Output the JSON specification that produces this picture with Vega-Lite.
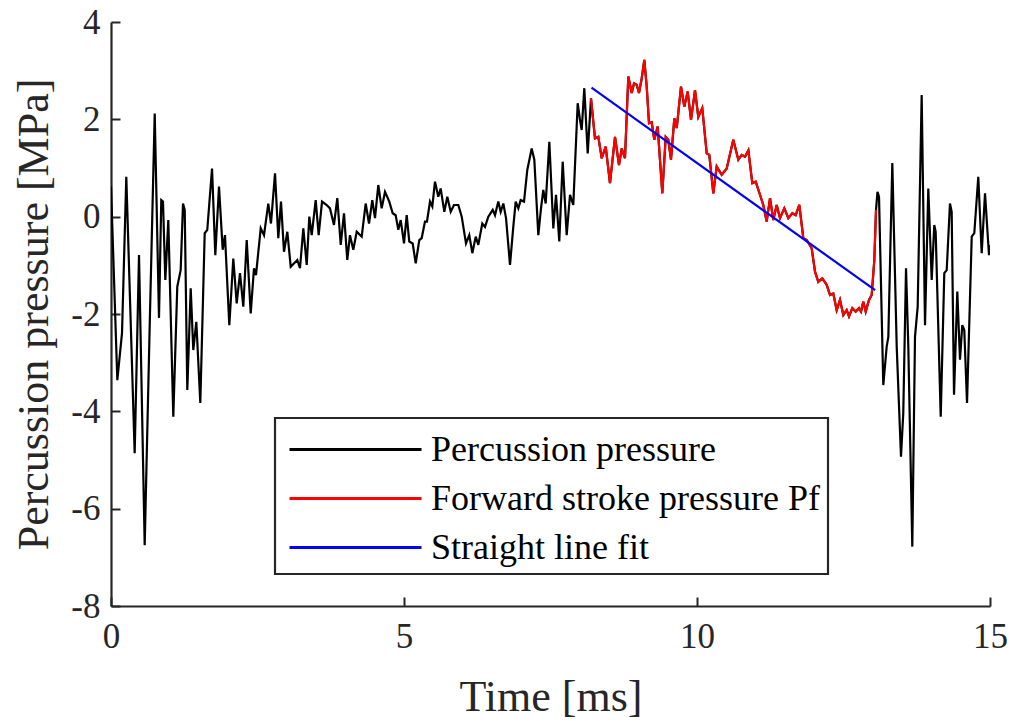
{
  "$schema": "https://vega.github.io/schema/vega-lite/v6.json",
  "autosize": {"type": "none"},
  "padding": {"left": 111, "top": 22, "right": 25, "bottom": 115},
  "width": 879,
  "height": 584,
  "background": "white",
  "config": {
    "view": {"stroke": null},
    "font": "Liberation Serif",
    "axis": {
      "grid": false,
      "domainColor": "#262626",
      "domainWidth": 2.2,
      "tickColor": "#262626",
      "tickWidth": 2,
      "tickSize": -9,
      "labelFont": "Liberation Serif",
      "labelFontSize": 35,
      "labelColor": "#262626",
      "titleFont": "Liberation Serif",
      "titleFontSize": 44,
      "titleFontWeight": "normal",
      "titleColor": "#262626"
    }
  },
  "datasets": {
    "sig": [
      {"t": 0.0, "p": 0.62}, {"t": 0.108, "p": -3.36}, {"t": 0.188, "p": -2.39}, {"t": 0.261, "p": 0.82},
      {"t": 0.404, "p": -4.86}, {"t": 0.478, "p": -0.79}, {"t": 0.575, "p": -6.75}, {"t": 0.66, "p": -2.26},
      {"t": 0.746, "p": 2.12}, {"t": 0.819, "p": -2.08}, {"t": 0.858, "p": 0.34}, {"t": 0.887, "p": 0.31},
      {"t": 0.927, "p": -1.3}, {"t": 0.978, "p": -0.07}, {"t": 1.063, "p": -4.11}, {"t": 1.131, "p": -1.44},
      {"t": 1.189, "p": -1.1}, {"t": 1.229, "p": 0.27}, {"t": 1.258, "p": 0.14}, {"t": 1.302, "p": -3.56},
      {"t": 1.36, "p": -1.47}, {"t": 1.404, "p": -2.74}, {"t": 1.456, "p": -2.16}, {"t": 1.524, "p": -3.83},
      {"t": 1.599, "p": -0.34}, {"t": 1.643, "p": -0.27}, {"t": 1.724, "p": 0.99}, {"t": 1.78, "p": -0.79},
      {"t": 1.843, "p": 0.62}, {"t": 1.906, "p": -0.68}, {"t": 1.945, "p": -0.38}, {"t": 2.019, "p": -2.23},
      {"t": 2.087, "p": -0.86}, {"t": 2.145, "p": -1.78}, {"t": 2.201, "p": -1.16}, {"t": 2.258, "p": -1.85},
      {"t": 2.316, "p": -0.48}, {"t": 2.384, "p": -1.99}, {"t": 2.44, "p": -1.06}, {"t": 2.474, "p": -1.2},
      {"t": 2.555, "p": -0.24}, {"t": 2.611, "p": -0.38}, {"t": 2.684, "p": 0.27}, {"t": 2.73, "p": -0.14},
      {"t": 2.799, "p": 0.89}, {"t": 2.855, "p": -0.44}, {"t": 2.901, "p": 0.31}, {"t": 2.952, "p": -0.72},
      {"t": 3.009, "p": -0.31}, {"t": 3.067, "p": -1.03}, {"t": 3.179, "p": -0.89}, {"t": 3.225, "p": -1.06},
      {"t": 3.282, "p": -0.24}, {"t": 3.34, "p": -0.99}, {"t": 3.384, "p": 0.0}, {"t": 3.425, "p": -0.38},
      {"t": 3.493, "p": 0.34}, {"t": 3.544, "p": -0.38}, {"t": 3.601, "p": 0.31}, {"t": 3.681, "p": 0.24},
      {"t": 3.737, "p": 0.17}, {"t": 3.805, "p": -0.17}, {"t": 3.862, "p": 0.38}, {"t": 3.92, "p": -0.58},
      {"t": 3.976, "p": 0.07}, {"t": 4.032, "p": -0.89}, {"t": 4.078, "p": -0.38}, {"t": 4.135, "p": -0.68},
      {"t": 4.193, "p": -0.31}, {"t": 4.278, "p": -0.41}, {"t": 4.346, "p": 0.27}, {"t": 4.403, "p": -0.14},
      {"t": 4.459, "p": 0.34}, {"t": 4.505, "p": -0.03}, {"t": 4.561, "p": 0.65}, {"t": 4.619, "p": 0.17},
      {"t": 4.676, "p": 0.51}, {"t": 4.749, "p": 0.31}, {"t": 4.807, "p": 0.07}, {"t": 4.858, "p": 0.03},
      {"t": 4.903, "p": -0.27}, {"t": 4.944, "p": -0.07}, {"t": 5.0, "p": -0.55}, {"t": 5.046, "p": 0.03},
      {"t": 5.09, "p": -0.51}, {"t": 5.148, "p": -0.55}, {"t": 5.2, "p": -0.96}, {"t": 5.261, "p": -0.48},
      {"t": 5.302, "p": -0.44}, {"t": 5.358, "p": -0.1}, {"t": 5.392, "p": -0.1}, {"t": 5.444, "p": 0.31},
      {"t": 5.483, "p": 0.21}, {"t": 5.529, "p": 0.72}, {"t": 5.585, "p": 0.41}, {"t": 5.626, "p": 0.58},
      {"t": 5.688, "p": 0.1}, {"t": 5.739, "p": 0.41}, {"t": 5.797, "p": 0.1}, {"t": 5.853, "p": 0.24},
      {"t": 5.927, "p": 0.24}, {"t": 5.985, "p": 0.0}, {"t": 6.058, "p": -0.55}, {"t": 6.114, "p": -0.38},
      {"t": 6.166, "p": -0.75}, {"t": 6.224, "p": -0.41}, {"t": 6.268, "p": -0.58}, {"t": 6.336, "p": -0.14},
      {"t": 6.382, "p": -0.21}, {"t": 6.439, "p": 0.0}, {"t": 6.514, "p": 0.14}, {"t": 6.553, "p": 0.03},
      {"t": 6.609, "p": 0.31}, {"t": 6.65, "p": 0.1}, {"t": 6.695, "p": 0.27}, {"t": 6.741, "p": -0.03},
      {"t": 6.809, "p": -0.99}, {"t": 6.865, "p": -0.21}, {"t": 6.906, "p": 0.31}, {"t": 6.951, "p": 0.17},
      {"t": 6.991, "p": 0.34}, {"t": 7.048, "p": 0.31}, {"t": 7.104, "p": 0.96}, {"t": 7.179, "p": 1.4},
      {"t": 7.224, "p": 1.17}, {"t": 7.292, "p": -0.38}, {"t": 7.338, "p": 0.17}, {"t": 7.377, "p": 0.55},
      {"t": 7.418, "p": 0.27}, {"t": 7.48, "p": 1.54}, {"t": 7.548, "p": -0.24}, {"t": 7.594, "p": 0.45},
      {"t": 7.65, "p": -0.51}, {"t": 7.708, "p": 1.13}, {"t": 7.776, "p": -0.38}, {"t": 7.833, "p": 0.45},
      {"t": 7.889, "p": 0.24}, {"t": 7.964, "p": 2.33}, {"t": 8.003, "p": 1.99}, {"t": 8.032, "p": 1.78},
      {"t": 8.077, "p": 2.64}, {"t": 8.135, "p": 1.3}, {"t": 8.191, "p": 2.43}, {"t": 8.259, "p": 1.61},
      {"t": 8.316, "p": 1.64}, {"t": 8.374, "p": 1.2}, {"t": 8.442, "p": 1.44}, {"t": 8.515, "p": 0.69},
      {"t": 8.601, "p": 1.64}, {"t": 8.669, "p": 1.06}, {"t": 8.715, "p": 1.4}, {"t": 8.771, "p": 1.2},
      {"t": 8.828, "p": 2.88}, {"t": 8.886, "p": 2.54}, {"t": 8.925, "p": 2.74}, {"t": 8.971, "p": 2.71},
      {"t": 9.01, "p": 2.54}, {"t": 9.056, "p": 2.84}, {"t": 9.101, "p": 3.22}, {"t": 9.142, "p": 2.67},
      {"t": 9.181, "p": 1.92}, {"t": 9.227, "p": 1.94}, {"t": 9.271, "p": 1.58}, {"t": 9.329, "p": 1.85},
      {"t": 9.408, "p": 0.48}, {"t": 9.466, "p": 1.64}, {"t": 9.51, "p": 1.58}, {"t": 9.556, "p": 1.17},
      {"t": 9.613, "p": 2.02}, {"t": 9.654, "p": 1.82}, {"t": 9.727, "p": 2.67}, {"t": 9.783, "p": 2.26},
      {"t": 9.841, "p": 2.57}, {"t": 9.898, "p": 1.99}, {"t": 9.966, "p": 2.6}, {"t": 10.022, "p": 2.05},
      {"t": 10.09, "p": 2.23}, {"t": 10.166, "p": 1.3}, {"t": 10.21, "p": 1.27}, {"t": 10.278, "p": 0.48},
      {"t": 10.336, "p": 1.03}, {"t": 10.421, "p": 0.86}, {"t": 10.507, "p": 0.99}, {"t": 10.619, "p": 1.58},
      {"t": 10.705, "p": 1.17}, {"t": 10.763, "p": 1.27}, {"t": 10.819, "p": 1.23}, {"t": 10.876, "p": 1.36},
      {"t": 10.944, "p": 0.69}, {"t": 11.002, "p": 0.72}, {"t": 11.075, "p": 0.45}, {"t": 11.131, "p": 0.24},
      {"t": 11.189, "p": -0.1}, {"t": 11.246, "p": 0.38}, {"t": 11.302, "p": -0.07}, {"t": 11.36, "p": 0.24},
      {"t": 11.416, "p": -0.03}, {"t": 11.49, "p": 0.17}, {"t": 11.558, "p": -0.03}, {"t": 11.626, "p": 0.07},
      {"t": 11.684, "p": 0.03}, {"t": 11.746, "p": 0.24}, {"t": 11.814, "p": -0.44}, {"t": 11.872, "p": -0.48},
      {"t": 11.957, "p": -0.65}, {"t": 12.014, "p": -1.13}, {"t": 12.07, "p": -1.34}, {"t": 12.138, "p": -1.27},
      {"t": 12.213, "p": -1.4}, {"t": 12.27, "p": -1.61}, {"t": 12.326, "p": -1.58}, {"t": 12.384, "p": -1.92},
      {"t": 12.44, "p": -1.71}, {"t": 12.497, "p": -2.02}, {"t": 12.555, "p": -1.92}, {"t": 12.594, "p": -2.05},
      {"t": 12.65, "p": -1.88}, {"t": 12.708, "p": -1.95}, {"t": 12.765, "p": -1.88}, {"t": 12.799, "p": -1.95},
      {"t": 12.838, "p": -1.75}, {"t": 12.879, "p": -1.95}, {"t": 12.935, "p": -1.71}, {"t": 12.981, "p": -1.61},
      {"t": 13.026, "p": -0.89}, {"t": 13.055, "p": 0.14}, {"t": 13.08, "p": 0.51}, {"t": 13.106, "p": 0.41},
      {"t": 13.179, "p": -3.46}, {"t": 13.237, "p": -2.67}, {"t": 13.265, "p": -2.47}, {"t": 13.333, "p": 1.1},
      {"t": 13.408, "p": -2.67}, {"t": 13.481, "p": -4.93}, {"t": 13.52, "p": -4.04}, {"t": 13.567, "p": -1.06},
      {"t": 13.606, "p": -2.67}, {"t": 13.674, "p": -6.78}, {"t": 13.72, "p": -2.47}, {"t": 13.766, "p": -1.85},
      {"t": 13.834, "p": 2.5}, {"t": 13.891, "p": -2.23}, {"t": 13.947, "p": 0.58}, {"t": 14.005, "p": -1.3},
      {"t": 14.049, "p": -0.17}, {"t": 14.073, "p": -0.31}, {"t": 14.159, "p": -4.11}, {"t": 14.22, "p": -1.16},
      {"t": 14.261, "p": -1.1}, {"t": 14.317, "p": 0.27}, {"t": 14.346, "p": 0.1}, {"t": 14.386, "p": -3.66},
      {"t": 14.442, "p": -1.54}, {"t": 14.488, "p": -2.94}, {"t": 14.527, "p": -2.23}, {"t": 14.561, "p": -2.33},
      {"t": 14.608, "p": -3.83}, {"t": 14.688, "p": -0.41}, {"t": 14.732, "p": -0.34}, {"t": 14.8, "p": 0.82},
      {"t": 14.858, "p": -0.75}, {"t": 14.915, "p": 0.48}, {"t": 14.983, "p": -0.79}, {"t": 15.0, "p": -0.58}
    ],
    "fit": [
      {"t": 8.2, "p": 2.65},
      {"t": 13.04, "p": -1.51}
    ]
  },
  "layer": [
    {
      "data": {"name": "sig"},
      "mark": {"type": "line", "strokeWidth": 2.2, "clip": true},
      "encoding": {
        "x": {
          "field": "t", "type": "quantitative",
          "scale": {"domain": [0, 15], "nice": false, "zero": false},
          "axis": {"values": [0, 5, 10, 15], "format": "d", "title": "Time [ms]", "labelPadding": 22, "titlePadding": 21, "labelFlush": false}
        },
        "y": {
          "field": "p", "type": "quantitative",
          "scale": {"domain": [-8, 4], "nice": false, "zero": false},
          "axis": {"values": [-8, -6, -4, -2, 0, 2, 4], "title": "Percussion pressure [MPa]", "labelPadding": 20, "titlePadding": 14, "labelExpr": "'' + datum.value", "labelFlush": false}
        },
        "color": {
          "datum": "Percussion pressure",
          "type": "nominal",
          "scale": {
            "domain": ["Percussion pressure", "Forward stroke pressure Pf", "Straight line fit"],
            "range": ["#000000", "#ff0000", "#0000ff"]
          },
          "legend": {
            "title": null,
            "orient": "none",
            "legendX": 164,
            "legendY": 396,
            "symbolType": "M-3,0H3",
            "symbolSize": 1936,
            "symbolOffset": 49,
            "symbolStrokeWidth": 3,
            "labelFont": "Liberation Serif",
            "labelFontSize": 36,
            "labelColor": "#000000",
            "labelOffset": 52,
            "labelLimit": 700,
            "rowPadding": 7,
            "padding": 8,
            "fillColor": "#ffffff",
            "strokeColor": "#262626",
            "encode": {"legend": {"update": {"strokeWidth": {"value": 2.2}}}}
          }
        }
      }
    },
    {
      "data": {"name": "sig"},
      "transform": [{"filter": "datum.t >= 8.19 && datum.t <= 13.06"}],
      "mark": {"type": "line", "strokeWidth": 2.2},
      "encoding": {
        "x": {"field": "t", "type": "quantitative"},
        "y": {"field": "p", "type": "quantitative"},
        "color": {"datum": "Forward stroke pressure Pf", "type": "nominal"}
      }
    },
    {
      "data": {"name": "fit"},
      "mark": {"type": "line", "strokeWidth": 2.2},
      "encoding": {
        "x": {"field": "t", "type": "quantitative"},
        "y": {"field": "p", "type": "quantitative"},
        "color": {"datum": "Straight line fit", "type": "nominal"}
      }
    }
  ]
}
